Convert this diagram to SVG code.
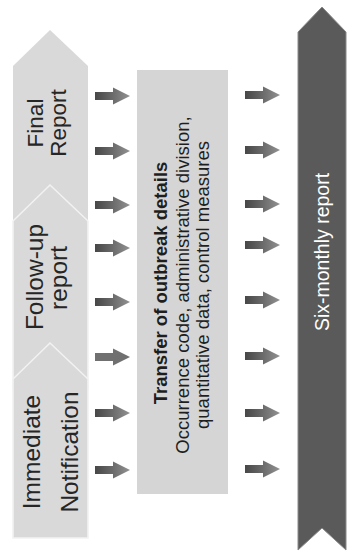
<svg xmlns="http://www.w3.org/2000/svg" width="352" height="560" viewBox="0 0 352 560">
  <style>
    .stage { fill: #d9d9d9; }
    .seam { fill: #d9d9d9; stroke: #f2f2f2; stroke-width: 1.6; stroke-linejoin: miter; }
    .label { font-family: "Liberation Sans", Arial, sans-serif; fill: #262626; text-anchor: middle; }
    .detail { font-family: "Liberation Sans", Arial, sans-serif; fill: #1e1e1e; text-anchor: middle; font-size: 18.5px; }
    .band-text { font-family: "Liberation Sans", Arial, sans-serif; fill: #ffffff; text-anchor: middle; font-size: 19.5px; }
  </style>
  <defs>
    <linearGradient id="arrowShade" x1="0" y1="0" x2="1" y2="0">
      <stop offset="0" stop-color="#474747"/>
      <stop offset="0.5" stop-color="#6a6a6a"/>
      <stop offset="1" stop-color="#929292"/>
    </linearGradient>
    <path id="arrow" d="M0,-4 H18 V-8.5 L35,0 L18,8.5 V4 H0 Z"/>
  </defs>

  <rect width="352" height="560" fill="#ffffff"/>

  <!-- stacked upward chevrons, drawn top stage first so lower points overlap -->
  <g id="final-report">
    <polygon class="stage" points="13,66 50,30 88,66 88,230 13,230"/>
    <text class="label" font-size="22.5" transform="translate(43,123) rotate(-90)">Final</text>
    <text class="label" font-size="22.5" transform="translate(66,123) rotate(-90)">Report</text>
  </g>
  <g id="follow-up-report">
    <polygon class="seam" points="13,221 50,185 88,221 88,390 13,390"/>
    <text class="label" font-size="24.5" transform="translate(43,277) rotate(-90)">Follow-up</text>
    <text class="label" font-size="24.5" transform="translate(67,278) rotate(-90)">report</text>
  </g>
  <g id="immediate-notification">
    <polygon class="seam" points="13,379 50,343 88,379 88,538 13,538"/>
    <text class="label" font-size="24.5" transform="translate(40,452) rotate(-90)">Immediate</text>
    <text class="label" font-size="24.5" transform="translate(78,452) rotate(-90)">Notification</text>
  </g>

  <!-- central data-transfer box -->
  <g id="transfer-details">
    <rect x="137" y="70" width="91" height="424" fill="#d5d5d5"/>
    <text class="detail" font-weight="bold" transform="translate(167,283) rotate(-90)">Transfer of outbreak details</text>
    <text class="detail" transform="translate(189,285) rotate(-90)">Occurrence code, administrative division,</text>
    <text class="detail" font-size="19.5" transform="translate(209,285) rotate(-90)">quantitative data, control measures</text>
  </g>

  <!-- summary band on the right -->
  <g id="six-monthly-report">
    <polygon points="298,32 322,7 346,32 346,550 322,528 298,550" fill="#5a5a5a" stroke="#8a8a8a" stroke-width="1"/>
    <text class="band-text" transform="translate(329,252) rotate(-90)">Six-monthly report</text>
  </g>

  <!-- flow arrows -->
  <g id="connectors" fill="url(#arrowShade)">
    <use href="#arrow" x="95" y="96"/>
    <use href="#arrow" x="95" y="151"/>
    <use href="#arrow" x="95" y="205"/>
    <use href="#arrow" x="95" y="248"/>
    <use href="#arrow" x="95" y="302"/>
    <use href="#arrow" x="95" y="357" fill="#707070"/>
    <use href="#arrow" x="95" y="413"/>
    <use href="#arrow" x="95" y="470"/>

    <use href="#arrow" x="245" y="95"/>
    <use href="#arrow" x="245" y="150"/>
    <use href="#arrow" x="245" y="204"/>
    <use href="#arrow" x="245" y="245"/>
    <use href="#arrow" x="245" y="300"/>
    <use href="#arrow" x="245" y="356"/>
    <use href="#arrow" x="245" y="413"/>
    <use href="#arrow" x="245" y="469"/>
  </g>
</svg>
